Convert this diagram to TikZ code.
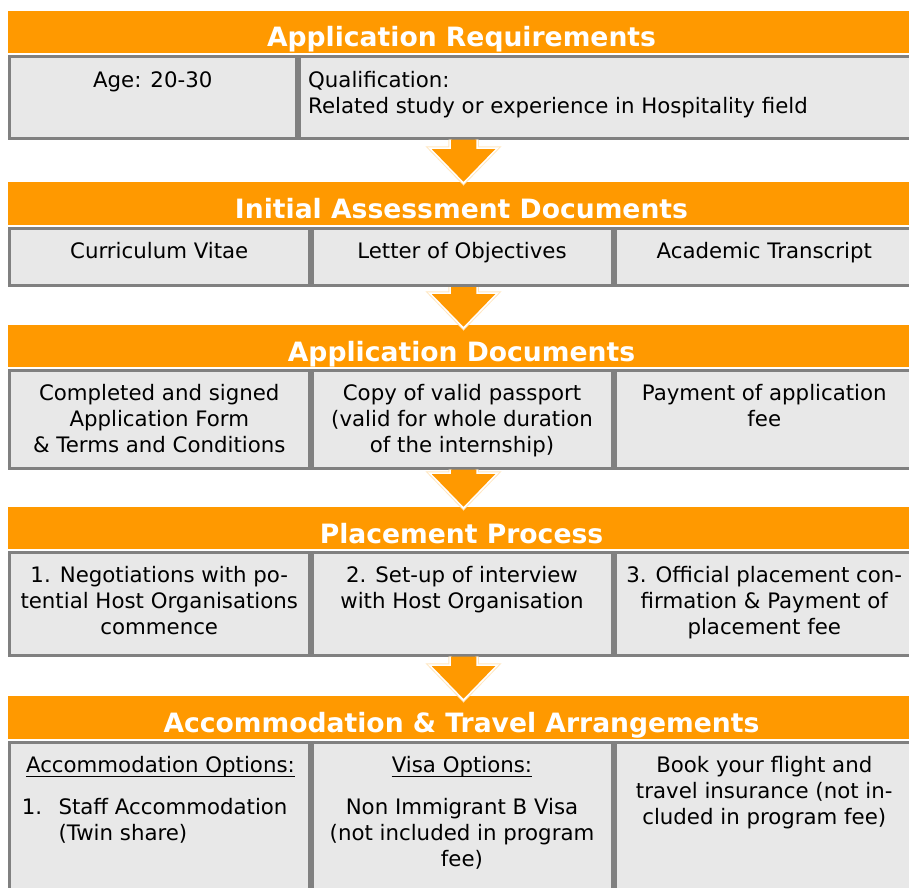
\documentclass[tikz,border=0pt]{standalone}
\usepackage{fontspec}
\setmainfont{DejaVu Sans}
\usetikzlibrary{calc}
\definecolor{hdr}{HTML}{FF9900}
\definecolor{cellbg}{HTML}{E8E8E8}
\definecolor{cellbd}{HTML}{808080}
\newcommand\cellrect[5]{\path[cellbox] (#1+1.5,#2+1.5) rectangle (#3-1.5,#4-1.5) coordinate (#5);}
\newcommand\flowarrow[2]{%
  \path[draw=hdr!25, line width=3.5] ($(#1)+(-13.5,0)$) -- ($(#2)+(-13.5,-35)$) -- ($(#2)+(-34,-35)$) -- (#2) -- ($(#2)+(34,-35)$) -- ($(#2)+(13.5,-35)$) -- ($(#1)+(13.5,0)$);
  \path[fill=hdr, draw=white, line width=1.5] ($(#1)+(-13.5,0)$) -- ($(#2)+(-13.5,-35)$) -- ($(#2)+(-34,-35)$) -- (#2) -- ($(#2)+(34,-35)$) -- ($(#2)+(13.5,-35)$) -- ($(#1)+(13.5,0)$);}
\begin{document}
\begin{tikzpicture}[x=1pt,y=-1pt,
  hdrbox/.style={fill=hdr, draw=none, anchor=north west, minimum width=910pt, inner sep=0pt},
  hdrtext/.style={font=\bfseries\fontsize{26.6}{30}\selectfont, text=white, anchor=base, inner sep=0pt},
  cellbox/.style={fill=cellbg, draw=cellbd, line width=3pt},
  body/.style={font=\fontsize{21.3}{26}\selectfont, anchor=base, inner sep=0pt, align=center},
  bodyl/.style={font=\fontsize{21.3}{26}\selectfont, anchor=base west, inner sep=0pt, align=left},
  uline/.style={line width=1.5pt, black}]
\useasboundingbox (0,0) rectangle (909,887);
\clip (0,0) rectangle (909,887);
% (multi-line nodes: anchor base = baseline of the last line)
% ---------- Row 1 ----------
\node[hdrbox, minimum height=41.3pt] (h1) at (8,11) {};
\node[hdrtext] (t1) at (461.5,46.7) {Application Requirements};
\cellrect{8}{55}{297.5}{139.5}{c11}
\cellrect{297.5}{55}{916}{139.5}{c12}
\node[body] (b11) at (152.75,87.3) {Age: 20-30};
\node[bodyl] (b12) at (308,113.3) {Qualification:\\Related study or experience in Hospitality field};
% ---------- Row 2 ----------
\node[hdrbox, minimum height=43pt] (h2) at (8,182) {};
\node[hdrtext] (t2) at (461.5,218) {Initial Assessment Documents};
\cellrect{8}{226.5}{310.5}{287}{c21}
\cellrect{310.5}{226.5}{613.5}{287}{c22}
\cellrect{613.5}{226.5}{916}{287}{c23}
\node[body] (b21) at (159.25,258.5) {Curriculum Vitae};
\node[body] (b22) at (462,258.5) {Letter of Objectives};
\node[body] (b23) at (764.25,258.5) {Academic Transcript};
% ---------- Row 3 ----------
\node[hdrbox, minimum height=42pt] (h3) at (8,325) {};
\node[hdrtext] (t3) at (461.5,361) {Application Documents};
\cellrect{8}{368.5}{310.5}{469.5}{c31}
\cellrect{310.5}{368.5}{613.5}{469.5}{c32}
\cellrect{613.5}{368.5}{916}{469.5}{c33}
\node[body] (b31) at (159.25,452.5) {Completed and signed\\Application Form\\\& Terms and Conditions};
\node[body] (b32) at (462,452.5) {Copy of valid passport\\(valid for whole duration\\of the internship)};
\node[body] (b33) at (764.25,426.5) {Payment of application\\fee};
% ---------- Row 4 ----------
\node[hdrbox, minimum height=42pt] (h4) at (8,507) {};
\node[hdrtext] (t4) at (461.5,543) {Placement Process};
\cellrect{8}{550.5}{310.5}{656.5}{c41}
\cellrect{310.5}{550.5}{613.5}{656.5}{c42}
\cellrect{613.5}{550.5}{916}{656.5}{c43}
\node[body] (b41) at (159.25,634.5) {1. Negotiations with po-\\tential Host Organisations\\commence};
\node[body] (b42) at (462,608.5) {2. Set-up of interview\\with Host Organisation};
\node[body] (b43) at (764.25,634.5) {3. Official placement con-\\firmation \& Payment of\\placement fee};
% ---------- Row 5 ----------
\node[hdrbox, minimum height=42.5pt] (h5) at (8,696) {};
\node[hdrtext] (t5) at (461.5,732) {Accommodation \& Travel Arrangements};
\cellrect{8}{740.5}{310.5}{900}{c51}
\cellrect{310.5}{740.5}{613.5}{900}{c52}
\cellrect{613.5}{740.5}{916}{900}{c53}
\node[body] (b51) at (160.4,772.5) {Accommodation Options:};
\draw[uline] ($(b51.base west)+(0,3.8)$) -- ($(b51.base east)+(0,3.8)$);
\node[bodyl] (b51n) at (21.7,814.5) {1.};
\node[bodyl] (b51t) at (58.3,840.5) {Staff Accommodation\\(Twin share)};
\node[body] (b52) at (462,772.5) {Visa Options:};
\draw[uline] ($(b52.base west)+(0,3.8)$) -- ($(b52.base east)+(0,3.8)$);
\node[body] (b52t) at (462,866.5) {Non Immigrant B Visa\\(not included in program\\fee)};
\node[body] (b53) at (764.25,824.5) {Book your flight and\\travel insurance (not in-\\cluded in program fee)};
% ---------- Arrows ----------
\coordinate (a1s) at (463.5,139.5); \coordinate (a1t) at (463.5,183);
\coordinate (a2s) at (463.5,287);   \coordinate (a2t) at (463.5,328);
\coordinate (a3s) at (463.5,469.5); \coordinate (a3t) at (463.5,508);
\coordinate (a4s) at (463.5,656.5); \coordinate (a4t) at (463.5,700);
\flowarrow{a1s}{a1t}
\flowarrow{a2s}{a2t}
\flowarrow{a3s}{a3t}
\flowarrow{a4s}{a4t}
\end{tikzpicture}
\end{document}
